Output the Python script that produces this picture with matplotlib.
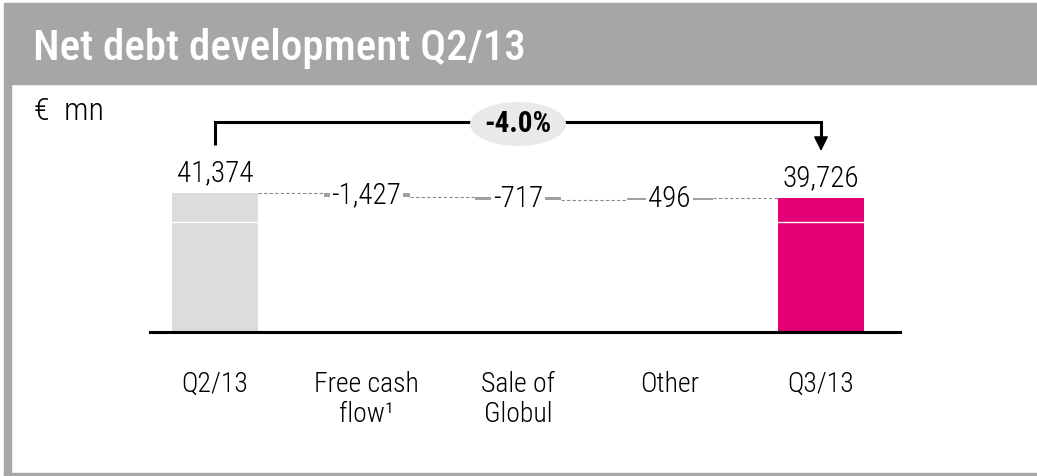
import matplotlib
matplotlib.use("Agg")
import matplotlib.pyplot as plt
from matplotlib import font_manager as fm
from matplotlib.patches import Rectangle, Ellipse
from matplotlib.transforms import blended_transform_factory

# pick a narrow sans if there is one
names = {f.name for f in fm.fontManager.ttflist}
FONT = "DejaVu Sans"
for cand in ["Roboto Condensed", "Liberation Sans Narrow", "Liberation Sans"]:
    if cand in names:
        FONT = cand
        break
plt.rcParams["font.family"] = [FONT, "DejaVu Sans"]

categories = ["Q2/13", "Free cash\nflow\u00b9", "Sale of\nGlobul", "Other", "Q3/13"]
start_value = 41374
deltas = [-1427, -717, 496]
end_value = 39726
delta_labels = ["-1,427", "-717", "496"]
total_labels = ["41,374", "39,726"]
change_label = "-4.0%"

GREY_BAR = "#dcdcdc"
MAGENTA = "#e20074"
FRAME = "#a6a6a6"
STEP = "#a0a0a0"
LW = "light"

W, H = 1037, 476
fig = plt.figure(figsize=(W / 100, H / 100), dpi=100)

# frame and header band
fig.patches.append(Rectangle((4 / W, 1 - 84 / H), 1 - 4 / W, 81 / H,
                             transform=fig.transFigure, color=FRAME, zorder=0))
fig.patches.append(Rectangle((4 / W, 0), 7 / W, 1 - 84 / H,
                             transform=fig.transFigure, color=FRAME, zorder=0))
fig.patches.append(Rectangle((4 / W, 0), 1 - 4 / W, 3.5 / H,
                             transform=fig.transFigure, color=FRAME, zorder=0))
fig.text(33 / W, 1 - 60 / H, "Net debt development Q2/13", color="white",
         fontsize=31, fontweight="medium", va="baseline", ha="left")
fig.text(34 / W, 1 - 112 / H, "\u20ac  mn", fontsize=23, fontweight=LW,
         va="center", ha="left")

# axes: bottom edge is the baseline, scale ~320 per pixel (broken axis)
ax_left, ax_right, ax_bottom, ax_top = 150, 900, 332, 95
ax = fig.add_axes([ax_left / W, 1 - ax_bottom / H,
                   (ax_right - ax_left) / W, (ax_bottom - ax_top) / H])
unit = 320.0
y0 = start_value - (ax_bottom - 193) * unit
ax.set_ylim(y0, y0 + (ax_bottom - ax_top) * unit)
step = 151.5
ax.set_xlim(-(215 - ax_left) / step, 4 + (ax_right - 821) / step)
bw = 86 / step

x = list(range(len(categories)))

# totals
ax.bar(x[0], start_value - y0, bottom=y0, width=bw, color=GREY_BAR, zorder=2)
ax.bar(x[4], end_value - y0, bottom=y0, width=bw, color=MAGENTA, zorder=2)

# steps
levels = [start_value]
for d in deltas:
    levels.append(levels[-1] + d)
for i, d in enumerate(deltas):
    lo, hi = sorted([levels[i], levels[i + 1]])
    ax.bar(x[i + 1], hi - lo, bottom=lo, width=bw, color=STEP, zorder=2)

# dashed connectors
for i, lv in enumerate(levels):
    ax.plot([x[i] + bw / 2, x[i + 1] - bw / 2], [lv, lv], color="#8c8c8c",
            lw=0.8, ls=(0, (3, 2)), zorder=1)

# delta labels on white boxes
for i, lab in enumerate(delta_labels):
    mid = (levels[i] + levels[i + 1]) / 2
    ax.text(x[i + 1], mid, lab, ha="center", va="center", fontsize=21,
            fontweight=LW, zorder=3,
            bbox=dict(facecolor="white", edgecolor="none", pad=1.5))

# total labels
for xi, v, lab in [(x[0], start_value, total_labels[0]), (x[4], end_value, total_labels[1])]:
    ax.annotate(lab, (xi, v), xytext=(0, 4), textcoords="offset points",
                ha="center", va="bottom", fontsize=21, fontweight=LW)

# white break line across the totals
axf = blended_transform_factory(ax.transData, ax.transAxes)
brk = (ax_bottom - 221.5) / (ax_bottom - ax_top)
for xi in (x[0], x[4]):
    ax.plot([xi - bw / 2, xi + bw / 2], [brk, brk], color="white", lw=1.0,
            transform=axf, zorder=2.5)

# bracket with arrow
def fy(px):
    return (ax_bottom - px) / (ax_bottom - ax_top)

ax.plot([x[0], x[0], x[4], x[4]], [fy(145), fy(122), fy(122), fy(136)],
        color="black", lw=2.2, transform=axf, solid_joinstyle="miter",
        solid_capstyle="butt", zorder=4)
ax.annotate("", xy=(x[4], fy(151)), xytext=(x[4], fy(134)),
            xycoords=axf, textcoords=axf,
            arrowprops=dict(arrowstyle="-|>,head_length=0.9,head_width=0.45",
                            color="black", lw=1, shrinkA=0, shrinkB=0), zorder=4)
mid_x = (x[0] + x[4]) / 2
ax.add_patch(Ellipse((mid_x, fy(124)), 96 / step, 44 / (ax_bottom - ax_top),
                     transform=axf, facecolor="#e9e9e9", edgecolor="none",
                     zorder=5, clip_on=False))
ax.text(mid_x, fy(124), change_label, transform=axf, ha="center", va="center",
        fontsize=21, fontweight="bold", zorder=6)

# axis styling
for s in ["top", "left", "right"]:
    ax.spines[s].set_visible(False)
ax.spines["bottom"].set_linewidth(2.2)
ax.spines["bottom"].set_zorder(4)
ax.set_yticks([])
ax.set_xticks(x)
ax.set_xticklabels(categories, fontsize=20, fontweight=LW, linespacing=1.15, va="top")
ax.tick_params(axis="x", length=0, pad=28)
ax.patch.set_alpha(0)

fig.savefig("out.png", dpi=100)
